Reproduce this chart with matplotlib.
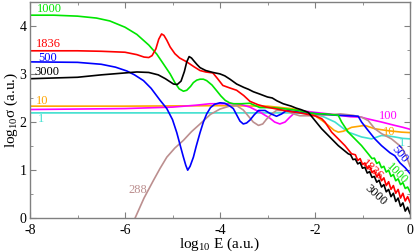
import matplotlib
matplotlib.use("Agg")
import matplotlib.pyplot as plt
from matplotlib.ticker import MultipleLocator

plt.rcParams['font.family'] = ['Liberation Serif', 'DejaVu Serif']
plt.rcParams['mathtext.fontset'] = 'custom'
plt.rcParams['mathtext.rm'] = 'Liberation Serif'
plt.rcParams['mathtext.it'] = 'Liberation Serif:italic'
plt.rcParams['axes.unicode_minus'] = False

# ---- data (log10 E, log10 sigma) ----
x_3000 = [-8, -7, -6.5, -6, -5.75, -5.5, -5.3, -5.15, -4.98, -4.9, -4.82, -4.75, -4.7, -4.65,
          -4.6, -4.55, -4.48, -4.42, -4.3,
          -4.15, -4.0, -3.9, -3.79, -3.65, -3.5, -3.4, -3.3, -3.16, -3.0, -2.9, -2.8, -2.67,
          -2.5, -2.4, -2.3, -2.14, -2.0, -1.86, -1.72, -1.51, -1.3,
          -1.25, -1.2, -1.15, -1.1, -1.05, -1.0, -0.95, -0.9, -0.85, -0.8, -0.75, -0.7, -0.65,
          -0.6, -0.55, -0.5, -0.45, -0.4, -0.35, -0.3, -0.25, -0.2, -0.15, -0.1, -0.05, 0]
y_3000 = [2.90, 2.93, 2.98, 3.02, 3.04, 3.03, 2.98, 2.90, 2.79, 2.78, 2.85, 3.05, 3.25, 3.36,
          3.33, 3.27, 3.19, 3.13, 3.07,
          3.03, 3.00, 2.96, 2.89, 2.79, 2.72, 2.68, 2.63, 2.58, 2.52, 2.50, 2.44, 2.38,
          2.33, 2.29, 2.26, 2.20, 2.03, 1.86, 1.72, 1.51, 1.34,
          1.32, 1.22, 1.23, 1.13, 1.16, 1.04, 1.06, 0.94, 0.97, 0.85, 0.87, 0.75, 0.79,
          0.65, 0.70, 0.55, 0.60, 0.45, 0.52, 0.35, 0.42, 0.25, 0.32, 0.15, 0.23, 0.10]

x_1836 = [-8, -7, -6.5, -6, -5.75, -5.6, -5.5, -5.43, -5.35, -5.29, -5.23, -5.18, -5.12,
          -5.05, -4.95, -4.85, -4.7,
          -4.55, -4.42, -4.3, -4.15, -4.05, -3.94, -3.8, -3.65, -3.5, -3.37, -3.2, -3.02,
          -2.8, -2.6, -2.32, -2.0, -1.86, -1.79, -1.65, -1.51, -1.37, -1.23,
          -1.15, -1.1, -1.05, -1.0, -0.95, -0.9, -0.85, -0.8, -0.75, -0.7, -0.65, -0.6,
          -0.55, -0.5, -0.45, -0.4, -0.35, -0.3, -0.25, -0.2, -0.15, -0.1, -0.05, 0]
y_1836 = [3.48, 3.48, 3.47, 3.45, 3.40, 3.35, 3.34, 3.38, 3.52, 3.72, 3.83, 3.80, 3.70,
          3.56, 3.42, 3.33, 3.25,
          3.15, 3.07, 3.04, 3.02, 2.90, 2.76, 2.71, 2.66, 2.55, 2.43, 2.36, 2.31,
          2.27, 2.23, 2.19, 2.13, 2.07, 2.00, 1.79, 1.65, 1.51, 1.34,
          1.32, 1.20, 1.24, 1.12, 1.15, 1.03, 1.08, 0.95, 0.99, 0.86, 0.92, 0.78,
          0.84, 0.68, 0.76, 0.60, 0.68, 0.52, 0.60, 0.42, 0.52, 0.36, 0.45, 0.33]

x_1000 = [-8, -7.5, -7, -6.6, -6.32, -6.0, -5.75, -5.5, -5.33, -5.2, -5.05, -4.95, -4.86,
          -4.77, -4.7, -4.62, -4.56, -4.49, -4.42, -4.35, -4.28, -4.17, -4.07, -3.98, -3.89,
          -3.8, -3.72, -3.55, -3.37,
          -3.16, -2.9, -2.6, -2.35, -2.18, -1.96, -1.79, -1.61, -1.51, -1.44, -1.3, -1.16,
          -1.02, -0.88, -0.8, -0.75, -0.7, -0.65, -0.6, -0.55, -0.5, -0.45, -0.4, -0.35,
          -0.3, -0.25, -0.2, -0.15, -0.1, -0.05, 0]
y_1000 = [4.22, 4.22, 4.20, 4.16, 4.10, 3.97, 3.82, 3.60, 3.41, 3.22, 3.00, 2.82, 2.69,
          2.64, 2.66, 2.74, 2.82, 2.87, 2.89, 2.89, 2.86, 2.77, 2.65, 2.54, 2.45,
          2.40, 2.38, 2.38, 2.39,
          2.30, 2.30, 2.27, 2.24, 2.20, 2.17, 2.17, 2.15, 2.14, 2.00, 1.79, 1.65,
          1.51, 1.34, 1.24, 1.25, 1.14, 1.17, 1.05, 1.08, 0.96, 1.00, 0.87, 0.91,
          0.78, 0.82, 0.70, 0.74, 0.62, 0.65, 0.55]

x_500 = [-8, -7, -6.5, -6.2, -5.96, -5.8, -5.61, -5.45, -5.26, -5.12, -5.0, -4.91, -4.82,
         -4.77, -4.72, -4.68, -4.63, -4.56, -4.5, -4.42, -4.35, -4.28, -4.2, -4.11, -4.0,
         -3.9, -3.79, -3.72, -3.65, -3.58, -3.51, -3.44, -3.37, -3.28, -3.19, -3.05, -2.95,
         -2.81, -2.7, -2.6, -2.32, -1.89, -1.54, -1.26, -1.09, -1.02, -0.91, -0.74, -0.6,
         -0.42, -0.32, -0.21, -0.1, 0]
y_500 = [3.25, 3.24, 3.20, 3.14, 3.06, 2.98, 2.86, 2.70, 2.45, 2.28, 2.05, 1.78, 1.45,
         1.27, 1.10, 1.00, 1.08, 1.27, 1.50, 1.78, 2.00, 2.17, 2.30, 2.37, 2.40,
         2.39, 2.33, 2.28, 2.15, 2.02, 1.96, 1.98, 2.04, 2.15, 2.24, 2.24, 2.18,
         2.12, 2.17, 2.24, 2.20, 2.17, 2.14, 2.13, 2.12, 2.00, 1.86, 1.65, 1.51,
         1.36, 1.30, 1.15, 1.05, 0.93]

x_288 = [-5.79, -5.6, -5.4, -5.26, -5.12, -4.95, -4.77, -4.6, -4.42, -4.3, -4.2, -4.0, -3.8,
         -3.65, -3.51, -3.4, -3.3,
         -3.19, -3.1, -3.02, -2.9, -2.81, -2.6, -2.46, -2.32, -2.0, -1.7, -1.47, -1.2, -1.02,
         -0.88, -0.74, -0.6, -0.39, -0.18, -0.08, 0]
y_288 = [0.0, 0.42, 0.79, 1.04, 1.27, 1.46, 1.62, 1.80, 1.96, 2.07, 2.16, 2.27, 2.33,
         2.34, 2.25, 2.12, 2.00,
         1.93, 1.96, 2.06, 2.18, 2.24, 2.24, 2.17, 2.13, 2.13, 2.15, 2.17, 2.14, 2.10,
         2.03, 1.86, 1.76, 1.65, 1.48, 1.30, 1.08]

x_100 = [-8, -6, -5, -4.5, -4.21, -3.72, -3.58, -3.37, -3.15, -2.95, -2.85, -2.74, -2.63,
         -2.53, -2.42, -2.32, -2.0, -1.72, -1.26, -1.02, -0.91, -0.6, -0.32, -0.15, 0]
y_100 = [2.26, 2.28, 2.31, 2.35, 2.38, 2.38, 2.37, 2.31, 2.20, 2.08, 2.00, 1.96, 2.00,
         2.10, 2.20, 2.24, 2.20, 2.17, 2.11, 2.10, 2.07, 2.00, 1.93, 1.89, 1.85]

x_10 = [-8, -6, -4, -3, -2.5, -2.2, -2.0, -1.85, -1.72, -1.6, -1.51, -1.4, -1.23, -0.95,
        -0.74, -0.46, -0.18, 0]
y_10 = [2.33, 2.33, 2.34, 2.33, 2.28, 2.22, 2.13, 2.03, 1.93, 1.83, 1.79, 1.81, 1.89, 1.93,
        1.86, 1.82, 1.79, 1.78]

x_1 = [-8, -4, -3, -2.5, -2.0, -1.8, -1.58, -1.3, -1.02, -0.81, -0.6, -0.45, -0.32, -0.15, 0]
y_1 = [2.19, 2.19, 2.19, 2.19, 2.17, 2.10, 2.00, 1.79, 1.69, 1.65, 1.72, 1.71, 1.69, 1.66, 1.65]

x_ticks = [-8, -6, -4, -2, 0]
y_ticks = [0, 1, 2, 3, 4]

C_GREEN = '#00e600'
C_ORANGE = '#ffa500'
C_TURQ = '#40e0d0'
C_BROWN = '#bc8f8f'

fig = plt.figure(figsize=(4.15, 2.52), dpi=100)
ax = fig.add_axes([30/415, 1-218.3/252, 380/415, (218.3-1.7)/252])

lw = 1.2
ax.plot(x_1, y_1, color=C_TURQ, lw=lw)
ax.plot(x_10, y_10, color=C_ORANGE, lw=lw)
ax.plot(x_100, y_100, color='#ff00ff', lw=lw)
ax.plot(x_288, y_288, color=C_BROWN, lw=lw)
ax.plot(x_500, y_500, color='#0000ff', lw=lw)
ax.plot(x_1000, y_1000, color=C_GREEN, lw=lw)
ax.plot(x_1836, y_1836, color='#ff0000', lw=lw)
ax.plot(x_3000, y_3000, color='black', lw=lw)

fs = 9
# left labels
ax.text(-7.85, 4.34, '1000', color=C_GREEN, fontsize=fs, ha='left', va='center')
ax.text(-7.88, 3.62, '1836', color='#ff0000', fontsize=fs, ha='left', va='center')
ax.text(-7.83, 3.32, '500', color='#0000ff', fontsize=fs, ha='left', va='center')
ax.text(-7.9, 3.03, '3000', color='black', fontsize=fs, ha='left', va='center')
ax.text(-7.88, 2.43, '10', color=C_ORANGE, fontsize=fs, ha='left', va='center')
ax.text(-7.83, 2.07, '1', color=C_TURQ, fontsize=fs, ha='left', va='center')
ax.text(-5.74, 0.58, '288', color=C_BROWN, fontsize=fs, ha='center', va='center')
# right labels
ax.text(-0.46, 2.13, '100', color='#ff00ff', fontsize=fs, ha='center', va='center')
ax.text(-0.44, 1.79, '10', color=C_ORANGE, fontsize=fs, ha='center', va='center')
ax.text(-0.17, 1.56, '1', color=C_TURQ, fontsize=fs, ha='center', va='center')
ax.text(-0.21, 1.34, '500', color='#0000ff', fontsize=fs, ha='center', va='center', rotation=-50)
ax.text(-0.28, 0.92, '1000', color=C_GREEN, fontsize=fs, ha='center', va='center', rotation=-45)
ax.text(-0.79, 1.00, '1836', color='#ff0000', fontsize=fs, ha='center', va='center', rotation=-42)
ax.text(-0.72, 0.48, '3000', color='black', fontsize=fs, ha='center', va='center', rotation=-42)

ax.set_xlim(-8, 0)
ax.set_ylim(0, 4.5)
ax.set_xticks(x_ticks)
ax.set_yticks(y_ticks)
ax.xaxis.set_minor_locator(MultipleLocator(1))
ax.yaxis.set_minor_locator(MultipleLocator(0.5))
gray = '#808080'
for s in ax.spines.values():
    s.set_color(gray)
    s.set_linewidth(1.0)
ax.tick_params(which='both', direction='in', top=True, right=True, color=gray,
               labelsize=10)
ax.tick_params(axis='x', pad=4)
ax.tick_params(axis='y', pad=2.5)
ax.tick_params(which='major', length=4)
ax.tick_params(which='minor', length=2.5)
ax.set_xlabel('log$_{10}$ E (a.u.)', fontsize=11, labelpad=-1)
ax.set_ylabel('log$_{10}$σ (a.u.)', fontsize=11, labelpad=0)

fig.savefig('out.png', dpi=100)
